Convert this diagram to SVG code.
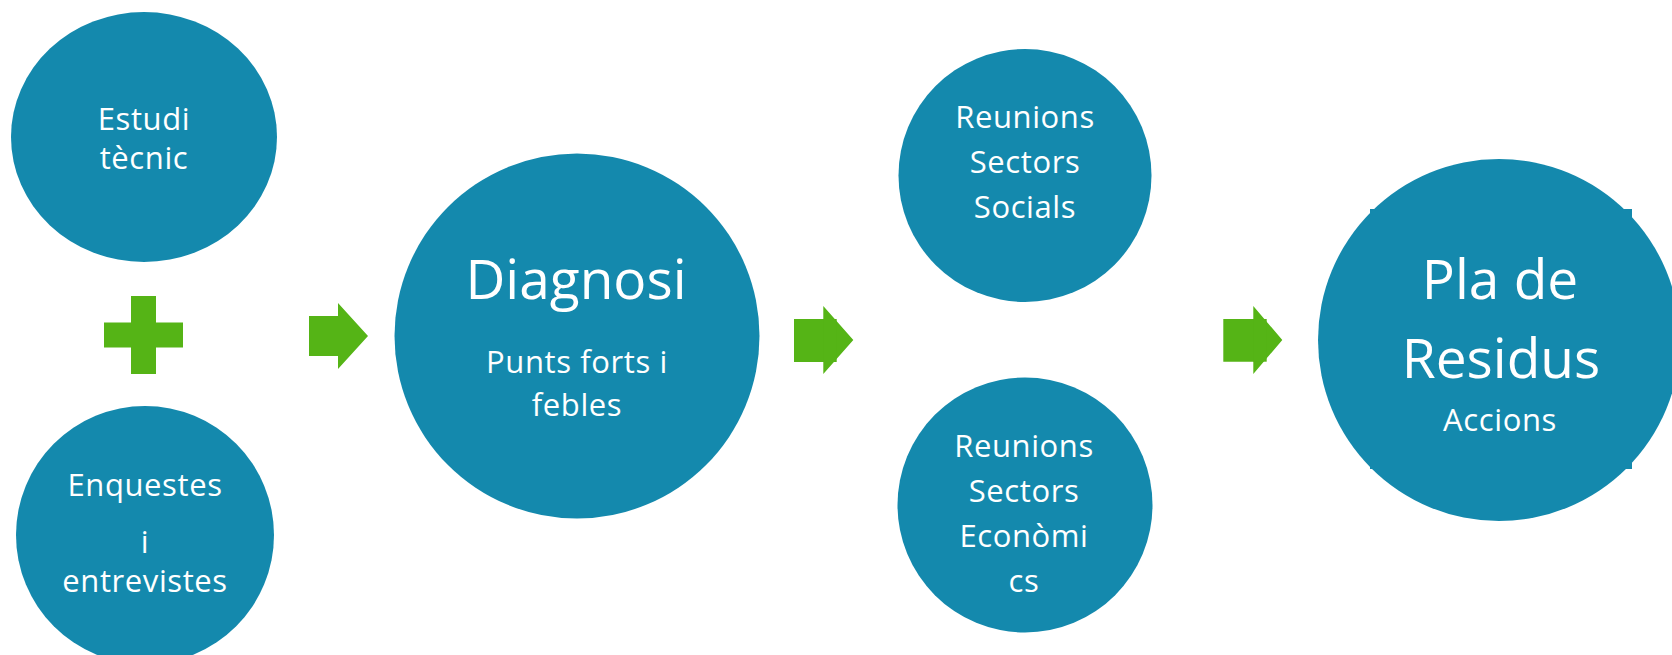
<svg xmlns="http://www.w3.org/2000/svg" width="1672" height="655" viewBox="0 0 1672 655">
<style>
.n{fill:#1489ad}
.c{fill:#55b416}
text{fill:#ffffff;font-family:"Open Sans","Noto Sans","Liberation Sans",sans-serif;text-anchor:middle}
.s{font-size:31px;letter-spacing:0.6px}
.b{font-size:55px}
</style>
<rect width="1672" height="655" fill="#ffffff"/>
<g id="estudi">
<ellipse class="n" cx="144" cy="137" rx="133" ry="125"/>
<text class="s" x="144" y="129.5">Estudi</text>
<text class="s" x="144" y="169">tècnic</text>
</g>
<g id="enquestes">
<circle class="n" cx="145" cy="535" r="129"/>
<text class="s" x="145" y="496">Enquestes</text>
<text class="s" x="145" y="552.5">i</text>
<text class="s" x="145" y="592">entrevistes</text>
</g>
<g id="diagnosi">
<circle class="n" cx="577" cy="336" r="182.5"/>
<text class="b" x="576" y="299">Diagnosi</text>
<text class="s" x="577" y="373">Punts forts i</text>
<text class="s" x="577" y="415.5">febles</text>
</g>
<g id="socials">
<circle class="n" cx="1025" cy="175.5" r="126.5"/>
<text class="s" x="1025" y="128">Reunions</text>
<text class="s" x="1025" y="173">Sectors</text>
<text class="s" x="1025" y="218">Socials</text>
</g>
<g id="economics">
<circle class="n" cx="1025" cy="505" r="127.5"/>
<text class="s" x="1024" y="456.5">Reunions</text>
<text class="s" x="1024" y="501.5">Sectors</text>
<text class="s" x="1024" y="546.5">Econòmi</text>
<text class="s" x="1024" y="591.5">cs</text>
</g>
<g id="pla">
<circle class="n" cx="1499" cy="340" r="181"/>
<rect class="n" x="1370" y="209" width="262" height="260"/>
<text class="b" x="1500" y="299">Pla de</text>
<text class="b" x="1501" y="377.5">Residus</text>
<text class="s" x="1500" y="431">Accions</text>
</g>
<g id="connectors">
<polygon class="c" points="104,322.5 131,322.5 131,296 156,296 156,322.5 183,322.5 183,347.5 156,347.5 156,374 131,374 131,347.5 104,347.5"/>
<polygon class="c" points="309,316 338,316 338,303 368,336 338,369 338,356 309,356"/>
<polygon class="c" points="794,319 823.3,319 823.3,306 853.3,340 823.3,374 823.3,362 794,362"/>
<polygon class="c" points="823.3,319 836.7,319 836.7,362 823.3,362"/>
<polygon class="c" points="1223.3,319 1253.3,319 1253.3,306 1282.3,340 1253.3,374 1253.3,361.7 1223.3,361.7"/>
<polygon class="c" points="1253.3,319 1266.7,319 1266.7,361.7 1253.3,361.7"/>
</g>
</svg>
